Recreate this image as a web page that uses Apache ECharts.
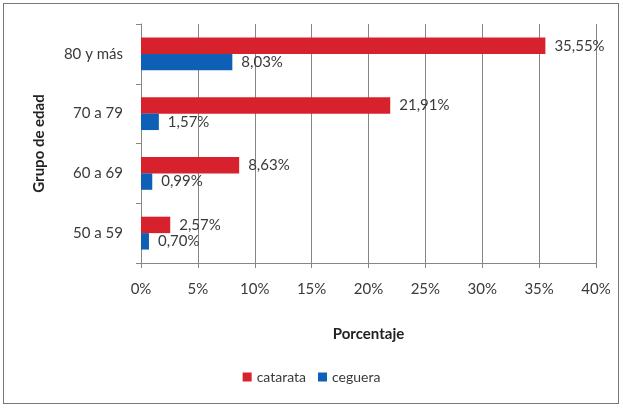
<!DOCTYPE html>
<html><head><meta charset="utf-8">
<script src="https://cdn.jsdelivr.net/npm/echarts@6/dist/echarts.min.js"></script>
<style>html,body{margin:0;padding:0;background:#fff}#c{width:623px;height:408px}
#frame{position:absolute;left:3px;top:3px;width:616px;height:401px;border:1px solid #777;box-sizing:border-box;pointer-events:none}</style>
</head><body><div id="c"></div><div id="frame"></div>
<script>
const categories = ['50 a 59', '60 a 69', '70 a 79', '80 y más'];
const catarata = [2.57, 8.63, 21.91, 35.55];
const ceguera = [0.70, 0.99, 1.57, 8.03];
const xTicks = [0, 5, 10, 15, 20, 25, 30, 35, 40];
const seriesNames = ['catarata', 'ceguera'];

const font = 'Lato, "Open Sans", sans-serif';
const fmt = v => v.toFixed(2).replace('.', ',') + '%';
const chart = echarts.init(document.getElementById('c'));
chart.setOption({
  animation: false,
  textStyle: { fontFamily: font },
  grid: { left: 141, right: 27, top: 24, bottom: 145, containLabel: false },
  legend: {
    bottom: 19, left: 'center', itemWidth: 9, itemHeight: 9, itemGap: 12,
    icon: 'rect',
    textStyle: { fontSize: 14, color: '#3a3a3a', fontFamily: font },
    data: seriesNames
  },
  xAxis: {
    type: 'value', min: 0, max: 40, interval: 5,
    name: 'Porcentaje', nameLocation: 'middle', nameGap: 64,
    nameTextStyle: { fontSize: 15, fontWeight: 'bold', color: '#222', fontFamily: font },
    axisLine: { show: true, lineStyle: { color: '#8a8484' } },
    axisTick: { show: true, length: 5, lineStyle: { color: '#8a8484' } },
    axisLabel: { formatter: v => xTicks.includes(v) ? v + '%' : '', fontSize: 15, color: '#3a3a3a', margin: 19 },
    splitLine: { show: true, lineStyle: { color: '#8a8484', width: 1 } }
  },
  yAxis: {
    type: 'category', data: categories,
    name: 'Grupo de edad', nameLocation: 'middle', nameGap: 94, nameRotate: 90,
    nameTextStyle: { fontSize: 15, fontWeight: 'bold', color: '#222', fontFamily: font },
    axisLine: { show: true, lineStyle: { color: '#8a8484' } },
    axisTick: { show: true, length: 5, inside: false, lineStyle: { color: '#8a8484' } },
    axisLabel: { fontSize: 15, color: '#3a3a3a', margin: 18 }
  },
  series: [
    {
      name: 'catarata', type: 'bar', data: catarata, barGap: '0%', barCategoryGap: '45%',
      itemStyle: { color: '#d7222e' },
      label: { show: true, position: 'right', distance: 9, formatter: p => fmt(p.value), fontSize: 15, color: '#3a3a3a', fontFamily: font }
    },
    {
      name: 'ceguera', type: 'bar', data: ceguera, barGap: '0%', barCategoryGap: '45%',
      itemStyle: { color: '#0e60b6' },
      label: { show: true, position: 'right', distance: 9, formatter: p => fmt(p.value), fontSize: 15, color: '#3a3a3a', fontFamily: font }
    }
  ]
});
</script></body></html>
